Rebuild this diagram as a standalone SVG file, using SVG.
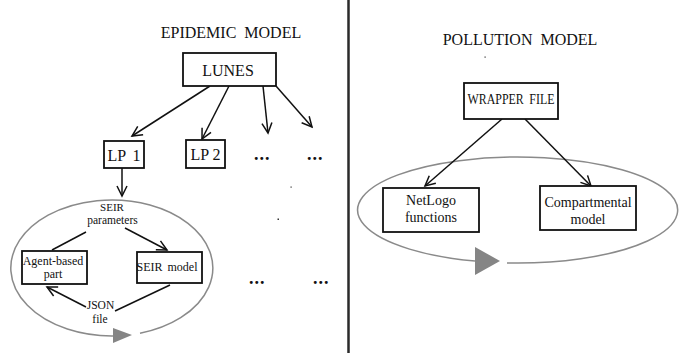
<svg xmlns="http://www.w3.org/2000/svg" width="694" height="353" viewBox="0 0 694 353">
<style>
.box{fill:#fff;stroke:#111;stroke-width:1.8}
.t{font-family:"Liberation Serif","Times New Roman",serif;fill:#111;text-anchor:middle}
.ln{fill:none;stroke:#111;stroke-width:1.5}
.ell{fill:none;stroke:#8a8a8a;stroke-width:1.5}
.tri{fill:#858585}
.dots{font-family:"Liberation Serif",serif;font-weight:bold;font-size:18px;fill:#111;letter-spacing:1px}
</style>
<defs>
<marker id="a" viewBox="-12 -7 14 14" refX="0" refY="0" markerWidth="14" markerHeight="14" markerUnits="userSpaceOnUse" orient="auto">
<path d="M-10,-5 L0,0 L-10,5" fill="none" stroke="#111" stroke-width="1.5"/>
</marker>
</defs>
<rect width="694" height="353" fill="#fff"/>
<line x1="348.5" y1="0" x2="348.5" y2="353" stroke="#2a2a2a" stroke-width="2.5"/>
<text class="t" x="231" y="38" font-size="16" word-spacing="4">EPIDEMIC MODEL</text>
<text class="t" x="520" y="45" font-size="16" word-spacing="4">POLLUTION MODEL</text>
<g id="ellipses">
<path class="ell" d="M140,333.3 A101,68 0 1 0 113,336"/>
<polygon class="tri" points="113,328 113,343 132,335"/>
<path class="ell" d="M507,262.9 A160,53 0 1 0 475,261.1"/>
<polygon class="tri" points="475,247 475,275 500,261"/>
</g>
<g id="connectors">
<line class="ln" x1="210" y1="86" x2="132" y2="136" marker-end="url(#a)"/>
<line class="ln" x1="229" y1="86" x2="202" y2="139" marker-end="url(#a)"/>
<line class="ln" x1="263" y1="86" x2="268" y2="133" marker-end="url(#a)"/>
<line class="ln" x1="276" y1="86" x2="312" y2="127" marker-end="url(#a)"/>
<line class="ln" x1="122" y1="168" x2="122" y2="196" marker-end="url(#a)"/>
<line class="ln" x1="52" y1="250" x2="86" y2="232"/>
<line class="ln" x1="125" y1="228" x2="167" y2="250" marker-end="url(#a)"/>
<line class="ln" x1="170" y1="285" x2="115" y2="311"/>
<line class="ln" x1="86" y1="307" x2="47" y2="287" marker-end="url(#a)"/>
<line class="ln" x1="502" y1="119" x2="425" y2="186" marker-end="url(#a)"/>
<line class="ln" x1="525" y1="119" x2="591" y2="186" marker-end="url(#a)"/>
</g>
<g id="lunes">
<rect class="box" x="183" y="53" width="93" height="33"/>
<text class="t" x="228" y="76" font-size="16">LUNES</text>
</g>
<g id="lp1">
<rect class="box" x="104" y="141" width="40" height="27"/>
<text class="t" x="124" y="161" font-size="16" word-spacing="3">LP 1</text>
</g>
<g id="lp2">
<rect class="box" x="186" y="140" width="39" height="28"/>
<text class="t" x="205.5" y="160" font-size="16">LP 2</text>
</g>
<text class="dots" x="254" y="160">...</text>
<text class="dots" x="307" y="160">...</text>
<text class="dots" x="249" y="284">...</text>
<text class="dots" x="313" y="284">...</text>
<g id="seir-params">
<text class="t" x="112" y="211" font-size="11">SEIR</text>
<text class="t" x="112.5" y="224" font-size="11.5">parameters</text>
</g>
<g id="agent">
<rect class="box" x="22" y="251" width="65" height="33"/>
<text class="t" x="53" y="265" font-size="12">Agent-based</text>
<text class="t" x="53" y="278" font-size="12">part</text>
</g>
<g id="seir-model">
<rect class="box" x="137" y="252" width="65" height="31"/>
<text class="t" x="167" y="271" font-size="12" word-spacing="2">SEIR model</text>
</g>
<g id="json">
<text class="t" x="100.5" y="309" font-size="11.5">JSON</text>
<text class="t" x="100" y="323" font-size="11.5">file</text>
</g>
<g id="wrapper">
<rect class="box" x="464" y="83" width="94" height="36"/>
<text class="t" x="511" y="104" font-size="14" word-spacing="3" textLength="87" lengthAdjust="spacingAndGlyphs">WRAPPER FILE</text>
</g>
<g id="netlogo">
<rect class="box" x="383" y="188" width="96" height="44"/>
<text class="t" x="431" y="205" font-size="14">NetLogo</text>
<text class="t" x="431" y="222" font-size="14">functions</text>
</g>
<g id="compartmental">
<rect class="box" x="540" y="186" width="96" height="44"/>
<text class="t" x="588" y="207" font-size="14">Compartmental</text>
<text class="t" x="588" y="224" font-size="14">model</text>
</g>
<g id="specks" fill="#333">
<rect x="290.5" y="186.5" width="1.2" height="1.2"/>
<rect x="277.5" y="218.5" width="1.5" height="1.5"/>
<rect x="484.5" y="56.5" width="1.2" height="1.2"/>
</g>
</svg>
